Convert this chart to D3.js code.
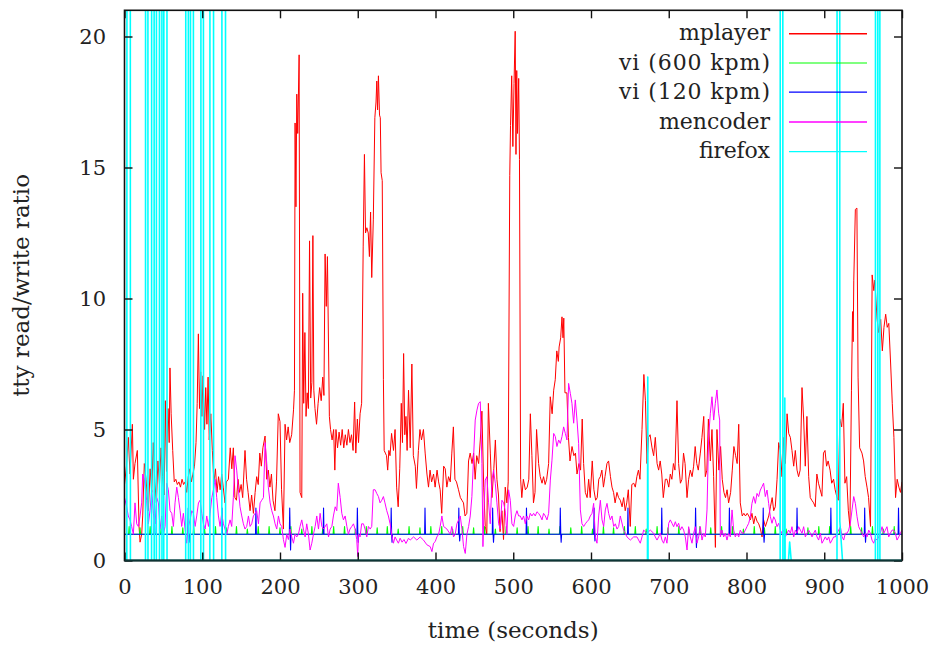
<!DOCTYPE html>
<html><head><meta charset="utf-8">
<script src="https://cdn.jsdelivr.net/npm/d3@7/dist/d3.min.js"></script>
<style>
html,body{margin:0;padding:0;background:#fff;}
svg{display:block;}
text{font-family:"DejaVu Serif","Liberation Serif",serif;fill:#222;}
</style></head>
<body><svg id="chart" width="936" height="646"></svg>
<script>
// ---------------- data ----------------
const xTicks = [0,100,200,300,400,500,600,700,800,900,1000];
const yTicks = [0,5,10,15,20];
const seriesNames = ["mplayer","vi (600 kpm)","vi (120 kpm)","mencoder","firefox"];
const seriesColors = ["#ff0000","#00ff00","#0000ff","#ff00ff","#00ffff"];

// mplayer: [time, ratio]
const mplayer = [[0,2.9],[2.5,3.6],[4.9,4.7],[7.1,3.3],[10.1,5.2],[11.4,3.1],[13.5,3.7],[16.5,4.2],[18.7,1.3],[20,0.7],[22.1,1.0],[23.4,1.7],[25.5,3.7],[27.7,3.1],[30.7,1.9],[33,3.5],[35,2.6],[37,4.5],[39,3.0],[41,2.2],[43,3.8],[45,2.9],[47,4.3],[49,3.2],[51,2.5],[52.5,6.1],[54,3.4],[56,5.8],[57.5,4.5],[58.5,7.35],[60,5.6],[62,4.2],[64,3.0],[66,3.1],[68,2.9],[70,3.0],[72,2.8],[74,3.1],[76,2.9],[78,3.0],[80,2.6],[82,3.2],[84,3.5],[86,3.0],[88,3.3],[90,3.6],[92,4.5],[93.5,6.0],[95,8.65],[96.5,5.8],[98,7.2],[99.5,5.5],[101,7.05],[103,5.0],[104.5,6.6],[106,5.2],[107.5,7.0],[109,4.6],[111,5.6],[113,4.2],[115,3.0],[117,3.5],[119,2.6],[121,3.2],[123,2.7],[125,3.3],[127,2.8],[129.3,2.2],[131,3.0],[133.6,3.1],[136,4.3],[138,3.5],[140,4.3],[142,2.4],[144,2.3],[146,3.1],[148,2.6],[150,2.9],[152,2.4],[155,4.2],[157,3.1],[159,2.6],[161.5,1.9],[163.5,2.5],[165.8,1.8],[168,2.6],[170,3.2],[172,2.9],[174,4.1],[176,3.6],[178,4.3],[180.8,4.75],[183,3.1],[185,3.45],[187,2.8],[189,3.3],[191,2.3],[193.5,1.9],[195.5,3.0],[197.8,5.6],[200,5.3],[202,2.7],[204.4,1.2],[206.5,5.2],[208.5,4.6],[210.5,5.1],[212.5,4.5],[215,4.8],[217.4,5.75],[218.6,6.5],[219.4,16.7],[220.5,13.5],[221.6,17.8],[222.8,16.3],[224.6,19.3],[225.8,2.6],[228,2.4],[229.2,10.2],[230.5,6.0],[232,8.7],[233.5,5.5],[235,6.4],[236.5,5.8],[238,12.2],[239.5,6.2],[241,6.8],[242.3,12.4],[243.5,6.5],[245,5.8],[247,5.2],[249,6.0],[251,6.6],[253,6.1],[255,7.0],[256.5,6.3],[258,11.7],[259.5,9.7],[261,11.6],[263.5,5.5],[265,5.0],[267,4.6],[269,5.0],[270.5,3.45],[272,5.0],[274,4.3],[276,4.9],[278,4.4],[280,5.0],[282,4.3],[284,4.8],[286,4.4],[288,5.0],[290,4.5],[292,4.8],[294,4.2],[296,6.05],[297.5,4.1],[299.5,5.4],[301,4.5],[303,5.6],[305,6.0],[307,12.0],[308.6,15.5],[310,12.5],[311.7,12.7],[313.5,12.5],[315,11.6],[316.5,13.3],[318,10.8],[320,13.0],[322,16.9],[323.5,17.5],[324.5,18.3],[325.5,17.2],[326.6,18.5],[328,17.0],[329,16.9],[330,14.8],[331.5,14.5],[333,6.9],[334,4.2],[335.5,4.1],[337,4.0],[338.5,3.45],[340,4.2],[341.5,4.0],[343.5,4.85],[346,4.2],[348,5.0],[350,2.8],[352,2.05],[354,3.5],[356,6.0],[357.5,4.5],[359,7.9],[360.5,4.8],[362,5.5],[363.5,4.2],[365.3,6.5],[367.5,4.3],[369.6,7.5],[371.5,4.0],[374,3.6],[375.5,2.75],[378,4.2],[380,5.0],[382,4.6],[384.5,5.0],[386.7,4.1],[389,3.3],[391,2.8],[393,3.45],[395,3.0],[397.5,3.3],[399.5,2.8],[402,3.45],[404,3.0],[406,2.7],[408,1.8],[410.5,3.6],[412.5,3.5],[414.6,2.8],[416.8,3.2],[419,3.0],[421,4.1],[423,5.1],[425,3.1],[427,3.0],[429.6,2.7],[432,2.4],[434,2.3],[436,2.2],[438,1.7],[440.3,1.8],[442.5,3.8],[444.6,4.1],[447,3.7],[449,4.1],[451,3.1],[453,4.0],[455.5,3.7],[457.6,4.6],[459.7,5.7],[462,2.8],[464,1.3],[466,1.0],[468,6.0],[470.5,4.1],[472.6,2.4],[475,3.5],[477,4.6],[479,3.1],[481,2.5],[483,1.1],[485.4,1.9],[487.5,0.8],[489.7,2.8],[491.8,2.2],[493.5,3.0],[495.5,14.7],[496.5,16.6],[498,18.5],[499.5,15.8],[501,18.2],[502.5,20.2],[503.5,15.5],[504.5,18.7],[505.5,16.3],[507,18.4],[508,15.3],[509.5,3.1],[511,2.4],[513,3.1],[515.6,2.7],[518,2.8],[520,3.1],[522,5.6],[524,4.0],[526,2.2],[528,2.6],[530,5.0],[532.6,3.7],[534.7,3.2],[537,2.95],[539,3.2],[541,2.9],[543,3.1],[545.5,3.7],[547.6,6.25],[550,5.6],[552,6.5],[554,6.9],[556,8.0],[558,7.6],[559,8.15],[561,8.5],[562.7,9.3],[564,8.5],[565,9.25],[566.5,6.4],[569,6.4],[571,4.7],[573,3.8],[575.6,4.35],[578,4.0],[580,4.1],[582,3.3],[584.5,3.7],[586.6,3.45],[588.7,5.4],[590.5,3.7],[592.7,2.6],[595,2.4],[597,3.1],[599,2.4],[601.6,3.8],[603.7,2.7],[606,2.3],[608,2.4],[610,3.1],[612,3.2],[614,3.45],[616,2.8],[618,3.2],[620.5,3.7],[622.6,3.8],[625,3.2],[627,2.8],[629,2.6],[631,2.2],[633.4,2.6],[635.5,2.4],[637.7,2.3],[640,2.05],[642,2.4],[644,1.9],[646,2.2],[648,2.7],[650.5,1.3],[652.5,2.9],[655,2.95],[657,2.8],[659,3.2],[661,3.45],[663,3.1],[665.6,5.0],[668,7.1],[670,6.1],[672,3.7],[674,4.7],[676,4.8],[678.5,4.3],[680.6,4.0],[682.7,4.7],[685,3.7],[687,3.45],[689,3.8],[691,3.3],[693,2.4],[695.6,3.1],[697.7,3.1],[700,2.8],[702,3.3],[704,3.1],[706,3.7],[708,3.45],[710.6,6.1],[712.7,3.7],[715,2.95],[717,3.1],[719,4.1],[721,3.7],[723.5,2.4],[725.6,3.1],[727.7,3.45],[730,3.2],[732,3.6],[734,4.35],[736,3.7],[738,3.45],[740.6,4.1],[742.7,4.7],[745,5.5],[747,3.2],[749,3.45],[751,5.4],[753.5,3.8],[755.6,5.0],[757.7,3.2],[760,0.5],[762,5.0],[764.5,3.45],[766.7,4.35],[768.8,3.1],[771,2.6],[773,2.4],[775,2.7],[777,2.2],[779.6,2.6],[781.7,3.45],[783.8,4.35],[786,4.0],[788,3.7],[790,5.2],[792,2.2],[794.5,1.7],[796.6,1.8],[798.7,1.7],[800.9,1.8],[803,1.7],[805,1.55],[807,1.8],[809.3,1.4],[811.4,1.7],[813.5,1.5],[815.7,1.4],[818,1.2],[820,0.9],[822,1.55],[824.3,1.3],[826.5,1.5],[828.6,1.7],[830.8,2.05],[833,2.4],[835,1.9],[837,2.05],[839.3,3.1],[841.4,4.5],[843.5,4.2],[845.7,3.2],[848,4.7],[850,3.7],[852.2,5.6],[854.3,4.85],[856.4,4.7],[858.5,4.2],[860.7,3.6],[862.8,4.2],[865,3.45],[867,3.2],[869,3.45],[871.4,6.6],[873.5,5.4],[875.6,3.6],[877.7,5.5],[880,3.2],[882,2.4],[884,2.3],[886.3,2.2],[888.4,2.05],[890.5,3.3],[892.6,2.95],[894.8,2.7],[897,2.45],[899,4.1],[901,4.2],[903,3.6],[905,3.8],[907.5,3.45],[909.6,2.95],[912,3.1],[914,2.7],[916,2.45],[918,2.3],[920,5.4],[922.4,5.1],[924.5,6.0],[926.6,2.95],[928.8,3.2],[931,1.9],[933,1.3],[935,6.5],[936.4,9.5],[937.2,8.35],[938,10.7],[940,13.4],[942,13.45],[943.5,7.0],[945.5,4.3],[948.5,4.1],[950.6,3.8],[952.7,3.2],[955,2.8],[957,2.4],[959.5,1.3],[961.6,10.9],[963.8,10.3],[965,10.7],[968,9.2],[970,8.7],[972.6,9.2],[974.7,8.0],[976.8,8.9],[979,9.4],[981,8.9],[983,9.05],[985.4,7.5],[987.5,6.0],[989.6,4.7],[991.7,2.4],[993.8,3.1],[996,2.8],[998,2.6],[1000,3.0]];

// vi (600 kpm): baseline 1 with small spikes
const vi600SpikeT = [6,20,33,47,61,75,89,103,117,131,144,158,172,186,200,214,228,241,255,269,283,297,311,325,338,352,366,380,394,408,422,435,449,463,477,491,505,519,532,546,560,574,588,602,616,629,643,657,671,685,699,713,726,740,754,768,782,796,810,823,837,851,865,879,893,907,920,934,948,962,976,990];
const vi600SpikeV = [1.3,1.25,1.3,1.2,1.3,1.25,1.3,1.2,1.3,1.25,1.3,1.2,1.3,1.3,1.25,1.3,1.2,1.3,1.25,1.3,1.3,1.2,1.3,1.25,1.3,1.2,1.3,1.25,1.3,1.3,1.2,1.3,1.25,1.3,1.2,1.3,1.25,1.3,1.3,1.2,1.3,1.25,1.3,1.2,1.3,1.25,1.3,1.3,1.2,1.3,1.25,1.3,1.2,1.3,1.25,1.3,1.3,1.2,1.3,1.25,1.3,1.2,1.3,1.25,1.3,1.3,1.2,1.3,1.25,1.3,1.2,1.3];

// vi (120 kpm): baseline 1 with periodic spikes up, some followed by a dip
const vi120SpikeT = [38.5,82,125.5,169,212.5,256,299.5,343,386.5,430,473.5,517,560.5,604,647.5,691,734.5,778,821.5,865,908.5,952,995.5];
const vi120Up     = [1.9,2.0,2.0,2.0,2.0,2.0,2.0,2.0,2.0,2.0,2.0,2.0,2.0,2.0,2.0,2.0,2.0,2.0,2.0,2.0,2.0,2.0,2.0];
const vi120Down   = [1.0,0.7,1.0,1.0,0.4,1.0,0.7,0.7,1.0,0.75,0.7,1.0,0.7,0.75,1.0,1.0,0.5,1.0,0.7,1.0,1.0,0.7,1.0];

// mencoder: [time, ratio]
const mencoder = [[0,2.4],[2.8,2.05],[4.9,1.7],[7.1,1.55],[9.2,1.3],[11.4,1.0],[13.5,2.2],[15.7,1.4],[17.8,1.3],[20,1.7],[22.1,2.2],[23.4,3.3],[25.5,3.1],[28.5,2.3],[30.7,1.4],[32.8,1.9],[35,2.7],[37.1,1.8],[39.3,1.4],[41.4,2.4],[43.6,2.2],[45.7,1.2],[47.9,1.7],[50,1.0],[52.2,1.3],[54.3,2.95],[56.4,2.7],[58.6,1.9],[60.8,1.8],[62.9,1.3],[65,2.2],[67.2,2.8],[69.3,2.4],[71.5,1.9],[73.6,1.3],[75.7,1.8],[77.9,1.2],[80,0.66],[82.2,1.3],[84.4,1.55],[86.5,1.9],[88.6,1.8],[90.8,1.3],[92.9,1.7],[95.1,2.2],[97.2,2.3],[99.4,1.8],[101.5,1.4],[103.7,1.2],[105.8,1.7],[108,1.3],[110.1,1.8],[112.3,2.4],[114.4,2.7],[116.6,3.1],[118.6,2.4],[120.8,1.7],[122.9,1.3],[125,1.8],[127.2,1.4],[129.3,1.2],[131.5,1.0],[133.6,1.3],[135.8,1.55],[137.9,1.3],[140,2.4],[142.2,4.0],[144.3,3.45],[146.5,2.7],[148.6,2.05],[150.8,1.7],[152.9,1.4],[155,1.2],[157.2,1.3],[159.4,1.7],[161.5,1.3],[163.6,1.4],[165.8,1.7],[168,1.8],[170,1.9],[172.3,1.4],[174.4,2.2],[176.5,2.3],[178.7,2.4],[180.8,4.5],[183,3.7],[185,2.8],[187.3,2.2],[189.4,1.9],[191.5,1.7],[193.7,1.4],[195.8,1.2],[198,1.7],[200,1.4],[202.2,1.3],[204.4,0.8],[206.5,0.5],[208.7,1.0],[210.8,0.8],[213,1.2],[215.1,0.9],[217.3,0.66],[219.4,1.0],[221.6,0.9],[223.7,1.0],[225.8,1.3],[228,1.55],[230.1,1.2],[232.3,0.9],[234.4,1.4],[236.6,1.0],[238.7,0.4],[240.9,0.66],[243,1.0],[245.2,1.3],[247.3,1.7],[249.5,1.2],[251.6,1.8],[253.8,1.3],[256,1.2],[260.2,1.4],[262.4,0.9],[264.5,1.2],[266.7,1.3],[268.7,1.7],[271,2.05],[273,1.9],[275,2.95],[277.4,2.4],[279.5,1.8],[281.6,1.55],[283.8,1.7],[286,1.3],[288,1.0],[290,1.2],[292.3,1.3],[294.5,1.4],[296.6,1.2],[298.7,0.8],[300,0.15],[301,1.0],[303,0.9],[305,1.4],[307.3,1.4],[309.4,1.2],[311.6,0.9],[313.7,1.3],[316,1.2],[318,1.3],[320,2.7],[322.3,2.7],[324.4,2.56],[326.6,2.44],[328.7,2.2],[330.9,2.3],[333,2.44],[335,2.2],[337.3,1.9],[339.4,1.7],[341.6,1.4],[343.7,1.0],[345.9,0.66],[348,0.9],[350,0.78],[352.3,0.66],[354.5,0.85],[357,0.7],[359.5,0.8],[362,0.65],[365.3,0.85],[367.5,0.78],[371.8,0.9],[376,0.78],[380.3,0.9],[384.6,0.78],[388.9,0.6],[393.2,0.53],[395.4,0.34],[397.5,0.66],[399.6,0.72],[401.8,0.9],[404,1.0],[406,1.3],[408.2,1.7],[410.4,1.3],[414.7,1.2],[419,1.0],[421,1.3],[423.2,0.9],[425.4,1.0],[427.5,1.4],[429.7,1.55],[431.8,1.7],[434,1.2],[436.1,0.53],[438.3,0.27],[440.4,1.0],[442.6,1.3],[444.7,1.7],[446.8,2.44],[449,3.96],[451.1,5.36],[453.3,5.74],[455.4,6.0],[457.6,6.06],[459.7,3.7],[461,0.53],[462.7,2.2],[464,3.07],[466.1,3.2],[468.3,2.2],[470.4,1.4],[472.6,3.07],[474.7,3.45],[476.9,2.95],[479,2.2],[481.2,1.4],[483.3,1.2],[485.4,2.3],[487.6,2.2],[489.7,1.9],[491.9,1.0],[494,2.7],[496.2,2.3],[498.3,1.4],[500.5,1.3],[502.6,1.7],[504.8,1.9],[506.9,1.7],[509,1.7],[511.2,1.55],[513.3,1.7],[515.5,1.4],[517.6,1.7],[519.8,1.55],[521.9,1.8],[524,1.7],[526.2,1.8],[528.3,1.7],[530.5,1.86],[532.6,1.8],[534.8,1.7],[537,1.55],[539,1.8],[541.2,1.7],[543.4,1.55],[545.5,1.8],[547.7,3.07],[549.8,3.83],[552,4.85],[554.1,4.73],[556.2,4.35],[558.4,4.6],[560.5,4.47],[562.7,4.73],[564.8,5.1],[567,4.85],[569.1,4.6],[571.2,6.76],[573.4,6.38],[575.5,6.0],[577.7,5.24],[579.8,6.13],[582,5.36],[584.1,4.47],[586.3,1.93],[588.4,1.4],[590.6,1.3],[592.7,1.4],[594.8,1.48],[597,1.55],[599.1,1.7],[601.3,1.8],[603.4,2.18],[605.6,0.9],[607.7,0.66],[609.9,1.7],[612,2.3],[614.2,1.55],[616.3,1.3],[618.4,1.93],[620.6,2.18],[622.7,1.8],[624.9,1.55],[627,1.7],[629.2,1.3],[631.3,1.4],[633.5,1.2],[635.6,1.3],[637.7,1.7],[642,1.16],[646.3,0.9],[650.6,0.78],[654.9,0.9],[659.1,0.9],[663.4,0.66],[665.6,0.9],[667.7,1.16],[672,1.04],[676.3,1.16],[680.6,1.04],[682.7,0.9],[684.9,0.78],[687,0.9],[689.2,1.04],[691.3,0.78],[693.4,0.66],[695.6,0.9],[697.7,0.66],[699.9,1.42],[702,1.55],[704.2,1.42],[706.3,1.29],[708.5,1.48],[710.6,1.29],[712.7,1.42],[714.9,1.16],[717,1.29],[719.2,1.16],[721.3,0.9],[723.5,0.4],[725.6,1.29],[727.7,0.9],[729.9,0.66],[732,1.04],[734.2,1.29],[736.3,0.66],[738.5,0.9],[740.6,1.29],[742.8,0.78],[744.9,1.04],[747,0.9],[749.2,1.93],[751.3,4.73],[753.5,5.62],[755.6,6.25],[757.8,5.36],[759.9,6.0],[762,6.51],[764.2,5.62],[765.5,5.36],[766.3,0.9],[768.5,1.16],[770.6,0.9],[772.8,1.04],[774.9,0.78],[777,1.04],[779.2,0.9],[781.4,1.93],[783.5,1.16],[785.6,0.9],[787.8,1.04],[790,0.9],[792,1.16],[794.2,1.04],[796.4,1.04],[798.5,1.16],[800.6,1.29],[802.8,1.42],[805,1.67],[807,2.18],[809.2,2.44],[811.4,2.18],[813.5,2.56],[815.6,2.44],[817.8,2.69],[820,2.82],[822,2.95],[824.2,2.44],[826.4,2.69],[828.5,2.18],[830.7,1.67],[832.8,1.42],[835,1.67],[837,1.55],[839.2,1.29],[841.4,1.42],[843.5,1.16],[845.7,1.04],[847.8,1.16],[850,0.9],[852.1,1.04],[854.2,1.16],[856.4,1.04],[858.5,1.29],[860.7,0.9],[862.8,1.16],[865,1.04],[867.1,1.29],[869.3,1.16],[871.4,1.04],[873.5,1.29],[875.7,0.9],[877.8,1.04],[880,1.16],[882.1,1.04],[884.3,0.9],[886.4,1.04],[888.5,1.16],[890.7,0.9],[892.8,0.78],[895,1.04],[897.1,0.66],[899.3,0.78],[901.4,0.9],[903.6,0.78],[905.7,0.9],[907.8,0.66],[910,0.78],[912.1,0.9],[914.3,0.9],[916.4,1.04],[918.6,1.16],[920.7,1.29],[922.9,0.9],[925,0.78],[927.1,1.04],[929.3,1.04],[931.4,1.16],[933.6,1.42],[935.7,1.93],[937.9,2.44],[940,2.18],[942.2,1.67],[944.3,1.29],[946.4,1.16],[948.6,1.04],[950.7,0.9],[952.9,1.04],[955,0.9],[957.2,1.16],[959.3,1.04],[961.4,0.78],[963.6,0.66],[965.7,0.85],[967.9,0.78],[970,0.9],[972.2,1.04],[974.3,1.29],[976.5,1.04],[978.6,1.16],[980.7,1.29],[982.9,0.9],[985,1.04],[987.2,1.16],[989.3,1.16],[991.5,1.04],[993.6,0.78],[995.8,0.9],[997.9,1.04],[1000,1.16]];

// firefox: mostly 0 with bursts far above the plotted range
const firefox = [[0,0],[3,0],[3.6,100],[7,100],[7.6,0],[27,0],[27.4,100],[29.8,100],[30.2,0],[34.8,0],[35.2,100],[37.8,100],[38.2,0],[41,0],[41.4,100],[44.6,100],[45,0],[45.3,100],[47.8,100],[48.2,0],[50.5,0],[50.9,100],[54.3,100],[54.7,0],[78.7,0],[79.1,100],[81.8,100],[82.2,0],[84.8,0],[85.2,100],[88.3,100],[88.7,0],[98.2,0],[98.6,100],[101.2,100],[101.6,0],[109.8,0],[110.2,100],[114.2,100],[114.6,0],[125.2,0],[125.6,100],[129.6,100],[130,0],[672.6,0],[673,7],[673.4,0],[843.3,0],[843.7,100],[846.4,100],[846.8,0],[849,0],[849.3,6.2],[849.7,0],[854,0],[855.5,0.7],[857.5,0],[916.4,0],[916.8,100],[919.6,100],[920,1.5],[923.5,0],[965.8,0],[966.2,100],[968.5,100],[968.9,0],[969.2,100],[971.2,100],[971.6,0],[1000,0]];

// ---------------- drawing ----------------
const svg = d3.select("#chart");
const L = 124.5, R = 902, T = 10.3, B = 560.5;
const x = d3.scaleLinear().domain([0,1000]).range([L,R]);
const y = d3.scaleLinear().domain([0,21]).range([B,T]);

svg.append("defs").append("clipPath").attr("id","clip")
  .append("rect").attr("x",L).attr("y",T).attr("width",R-L).attr("height",B-T);

// build spike series from spike tables
const vi600 = [[0,1]];
vi600SpikeT.forEach((t,i)=>{ vi600.push([t-0.7,1],[t,vi600SpikeV[i]],[t+0.7,1]); });
vi600.push([1000,1]);
const vi120 = [[0,1]];
vi120SpikeT.forEach((t,i)=>{
  vi120.push([t-0.5,1],[t,vi120Up[i]],[t+0.6,1]);
  if (vi120Down[i] < 1) vi120.push([t+1.1,vi120Down[i]],[t+1.7,1]);
});
vi120.push([1000,1]);

const line = d3.line().x(d=>x(d[0])).y(d=>y(d[1]));
const g = svg.append("g").attr("clip-path","url(#clip)");
const allSeries = [mplayer, vi600, vi120, mencoder, firefox];
const widths = [1,1.1,1.1,1,1.6];
allSeries.forEach((data,i)=>{
  g.append("path").datum(data).attr("d",line)
    .attr("fill","none").attr("stroke",seriesColors[i])
    .attr("stroke-width",widths[i]).attr("stroke-linejoin","round");
});

// axes (ticks inward on all four sides)
const fontSize = 21;
const ax = svg.append("g").attr("transform",`translate(0,${B})`)
  .call(d3.axisBottom(x).tickValues(xTicks).tickSize(-8).tickPadding(18.6).tickFormat(d3.format("d")));
const ay = svg.append("g").attr("transform",`translate(${L},0)`)
  .call(d3.axisLeft(y).tickValues(yTicks).tickSize(-8).tickPadding(18.5).tickFormat(d3.format("d")));
const axT = svg.append("g").attr("transform",`translate(0,${T})`)
  .call(d3.axisTop(x).tickValues(xTicks).tickSize(-8).tickFormat(""));
const ayR = svg.append("g").attr("transform",`translate(${R},0)`)
  .call(d3.axisRight(y).tickValues(yTicks).tickSize(-8).tickFormat(""));
[ax,ay,axT,ayR].forEach(a=>{
  a.attr("font-family",null);
  a.select(".domain").remove();
  a.selectAll(".tick line").attr("stroke","#111").attr("stroke-width",1.4);
  a.selectAll(".tick text").attr("font-size",fontSize).attr("fill","#222");
});

// border (bottom edge tinted where the firefox zero line runs under it)
svg.append("rect").attr("x",L).attr("y",T).attr("width",R-L).attr("height",B-T)
  .attr("fill","none").attr("stroke","#111").attr("stroke-width",1.6);
svg.append("line").attr("x1",L).attr("x2",R).attr("y1",B).attr("y2",B)
  .attr("stroke","#0d3535").attr("stroke-width",2);

// axis titles
svg.append("text").attr("x",(L+R)/2).attr("y",638).attr("text-anchor","middle")
  .attr("font-size",23).text("time (seconds)");
svg.append("text").attr("transform",`translate(29,${(T+B)/2}) rotate(-90)`)
  .attr("text-anchor","middle").attr("font-size",23)
  .text("tty read/write ratio");

// legend
const legY = [33.7,63,92.2,122,151.7];
const legW = [91,151,151,111,71];
const leg = svg.append("g");
seriesNames.forEach((n,i)=>{
  leg.append("text").attr("x",770).attr("y",legY[i]+6.5).attr("text-anchor","end")
    .attr("font-size",22).attr("textLength",legW[i]).attr("lengthAdjust","spacing").text(n);
  leg.append("line").attr("x1",789).attr("x2",867).attr("y1",legY[i]).attr("y2",legY[i])
    .attr("stroke",seriesColors[i]).attr("stroke-width",i===0||i===3?1.6:1.2);
});
</script></body></html>
